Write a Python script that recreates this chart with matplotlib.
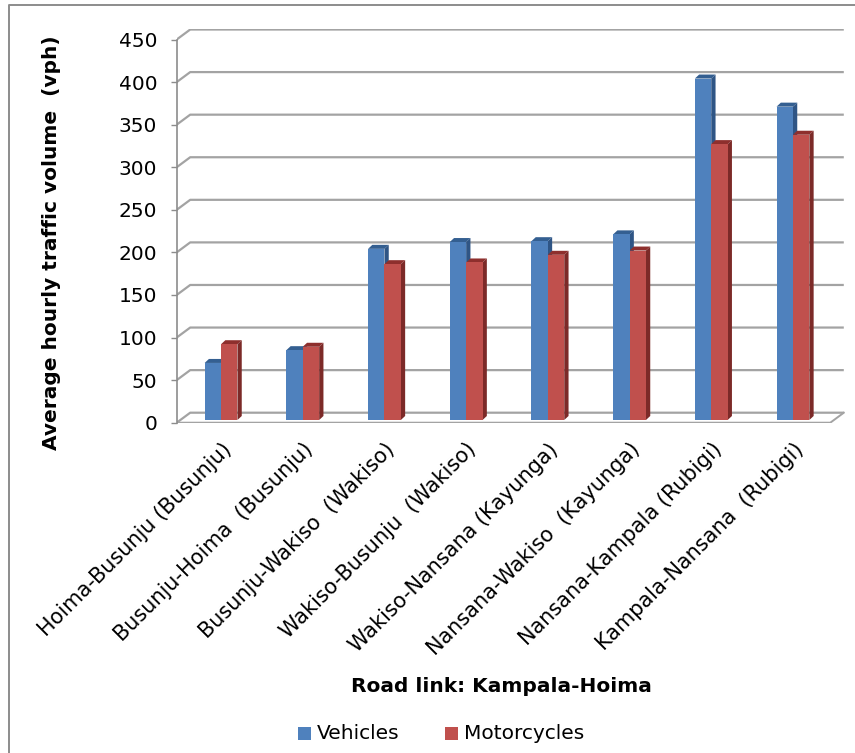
import matplotlib
matplotlib.use("Agg")
import matplotlib.pyplot as plt
from matplotlib.patches import Polygon, Rectangle
from matplotlib.lines import Line2D
import numpy as np

plt.rcParams["font.family"] = ["DejaVu Sans"]

links = ["Hoima-Busunju (Busunju)", "Busunju-Hoima  (Busunju)", "Busunju-Wakiso  (Wakiso)",
         "Wakiso-Busunju  (Wakiso)", "Wakiso-Nansana (Kayunga)", "Nansana-Wakiso  (Kayunga)",
         "Nansana-Kampala (Rubigi)", "Kampala-Nansana  (Rubigi)"]
vehicles = [67, 82, 201, 209, 210, 218, 401, 368]
motorcycles = [89, 86, 183, 185, 194, 199, 324, 335]
yticks = list(range(0, 451, 50))

W, H = 855, 753
fig = plt.figure(figsize=(W / 100, H / 100), dpi=100)

# plot box in pixels (front-left axis at x=176.7, value 0 at y=422.7)
x0, x1 = 176.7, 845.0
ytop, ybot = 29.3, 422.7
ax = fig.add_axes([x0 / W, 1 - ybot / H, (x1 - x0) / W, (ybot - ytop) / H])
XL, XR = -0.5, 7.68
YT = 462.0
ax.set_xlim(XL, XR)
ax.set_ylim(0, YT)
pxu = (x1 - x0) / (XR - XL)      # px per category unit
pyu = (ybot - ytop) / YT         # px per value unit

# wall depth and bar depth, converted to data units
DX, DY = 13.5 / pxu, 10.0 / pyu
BX0, BY0 = 3.5 / pxu, 2.7 / pyu
BDX, BDY = 4.3 / pxu, 4.0 / pyu
bw = 16.4 / pxu

grid_c = "#a3a3a3"
# gridlines on the side wall and back wall
for v in yticks:
    ax.plot([XL, XL + DX, 7.5 + DX], [v, v + DY, v + DY], color=grid_c, lw=1.6,
            solid_capstyle="butt", zorder=1)
# floor front edge and right edge
ax.plot([XL, 7.5, 7.5 + DX], [0, 0, DY], color=grid_c, lw=1.4, zorder=1)

def bar3d(xl, v, front, top, side):
    bx, by = xl + BX0, BY0
    ax.add_patch(Polygon([(bx, by + v), (bx + BDX, by + v + BDY), (bx + bw + BDX, by + v + BDY),
                          (bx + bw, by + v)], closed=True, fc=top, ec="none", zorder=3))
    ax.add_patch(Polygon([(bx + bw, by), (bx + bw + BDX, by + BDY), (bx + bw + BDX, by + v + BDY),
                          (bx + bw, by + v)], closed=True, fc=side, ec="none", zorder=3))
    ax.add_patch(Rectangle((bx, by), bw, v, fc=front, ec="none", zorder=4))

x = np.arange(len(links))
for i in x:
    bar3d(i - bw, vehicles[i], "#4f81bd", "#345f91", "#2f5585")
    bar3d(i, motorcycles[i], "#c0504d", "#8e2f2d", "#7c2a28")

# front vertical axis
for s in ["top", "right", "bottom"]:
    ax.spines[s].set_visible(False)
ax.spines["left"].set_bounds(0, 450)
ax.spines["left"].set_color("#8c8c8c")
ax.spines["left"].set_linewidth(1.2)
ax.set_yticks(yticks)
ax.set_yticklabels([str(t) for t in yticks], fontsize=14.5)
ax.tick_params(axis="y", length=4, width=1, color="#8c8c8c", pad=10)

ax.set_xticks(x + BX0)
ax.set_xticklabels(links, rotation=45, ha="right", rotation_mode="anchor", fontsize=15)
ax.tick_params(axis="x", length=0, pad=12)

fig.text(52 / W, 1 - 243 / H, "Average hourly traffic volume  (vph)", rotation=90,
         ha="center", va="center", fontsize=14.5, fontweight="bold")
fig.text(501 / W, 1 - 687 / H, "Road link: Kampala-Hoima", ha="center", va="center",
         fontsize=14.5, fontweight="bold")

# legend
for lx, col, name in [(298, "#4f81bd", "Vehicles"), (445, "#c0504d", "Motorcycles")]:
    fig.add_artist(Rectangle((lx / W, 1 - 740 / H), 13 / W, 13 / H, transform=fig.transFigure,
                             fc=col, ec="none"))
    fig.text((lx + 19) / W, 1 - 733.5 / H, name, ha="left", va="center", fontsize=14.5)

# chart border (left and top edges)
fig.add_artist(Line2D([9 / W, 9 / W, 1.0], [0.0, 1 - 5 / H, 1 - 5 / H], transform=fig.transFigure,
                      color="#8c8c8c", lw=1.4))

fig.savefig("out.png", dpi=100)
